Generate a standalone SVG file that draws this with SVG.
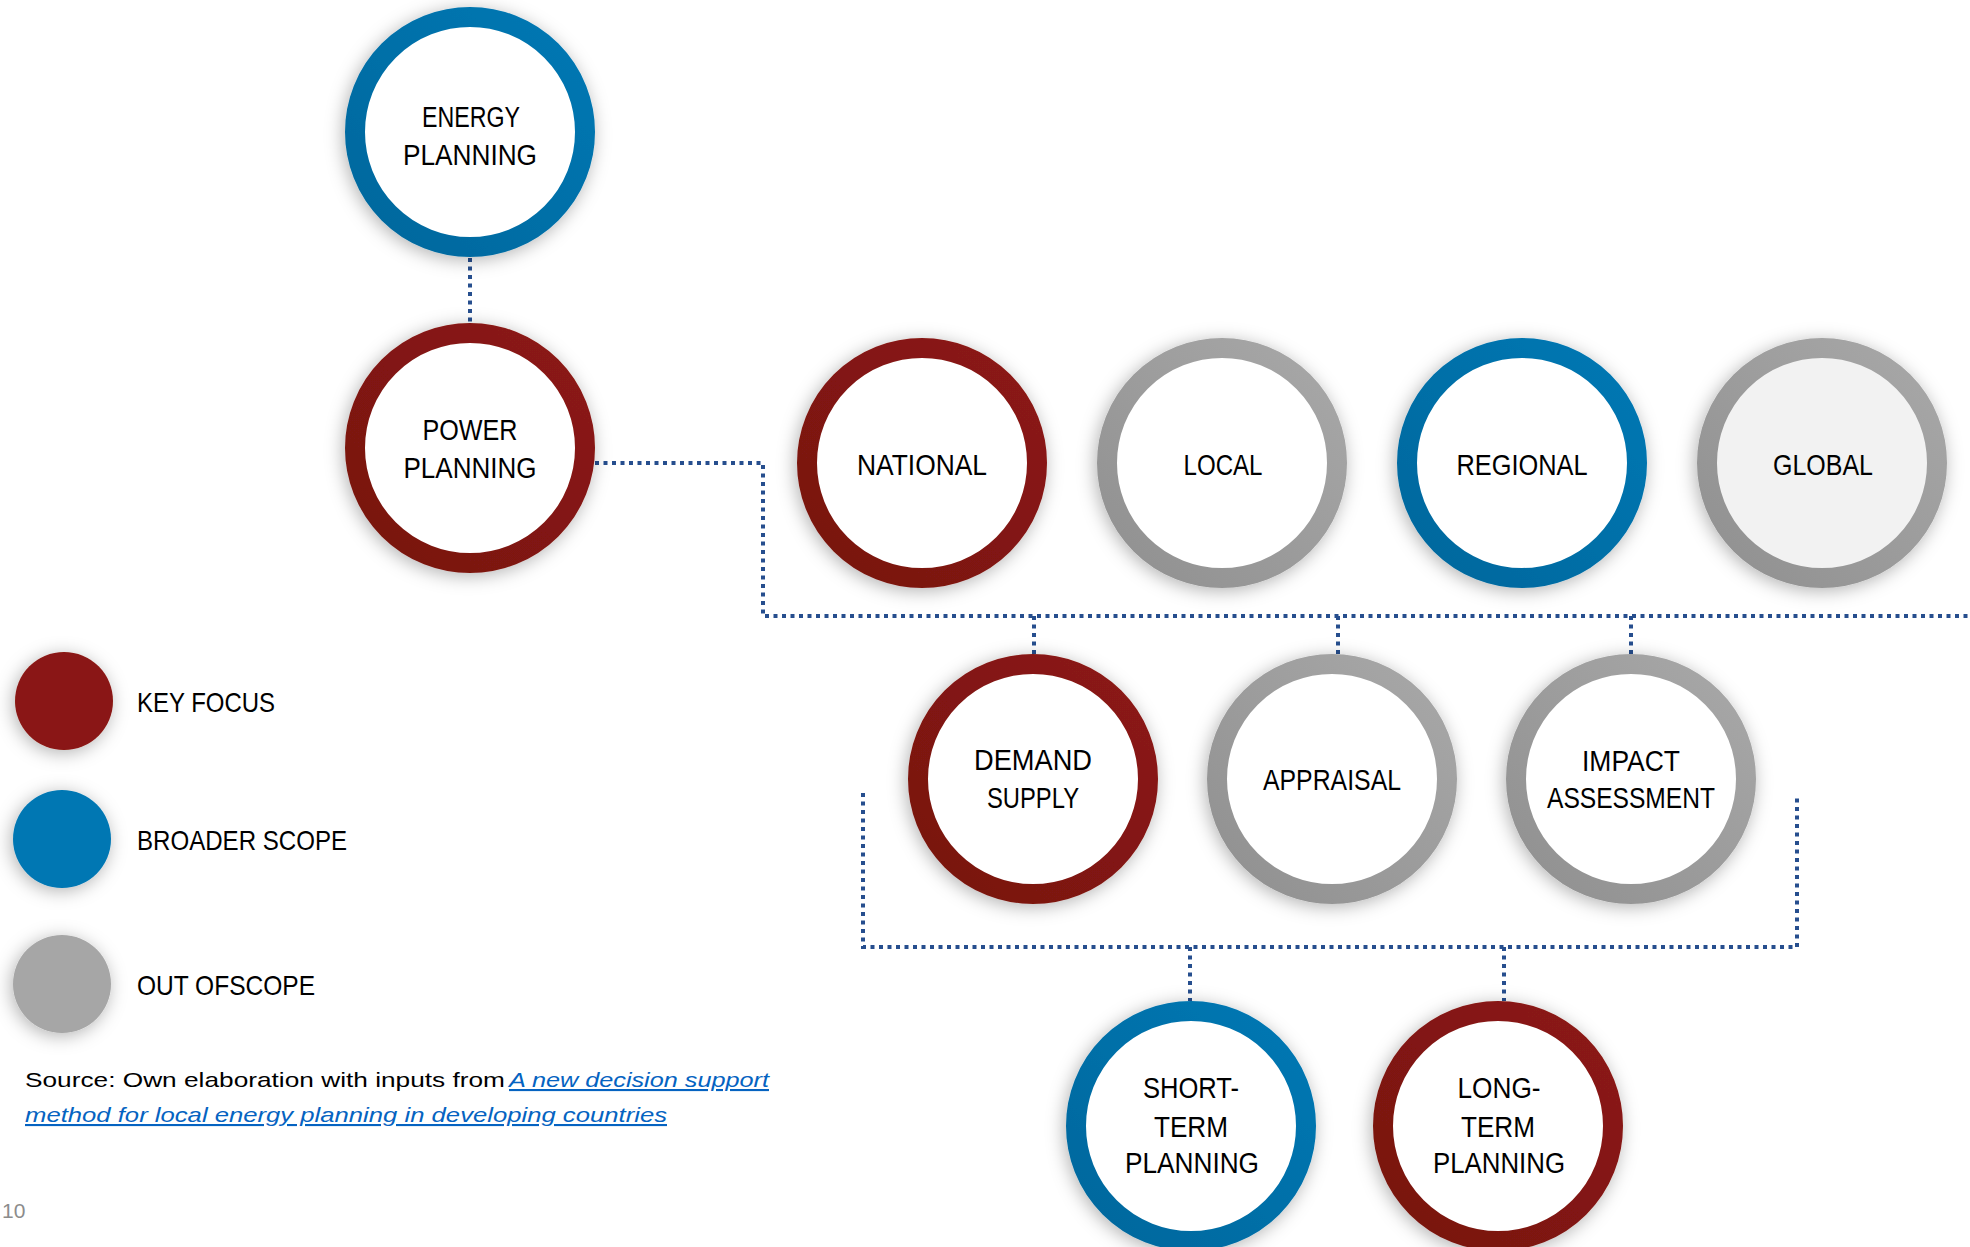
<svg xmlns="http://www.w3.org/2000/svg" width="1970" height="1247" viewBox="0 0 1970 1247">
<style>
.lbl{font-family:"Liberation Sans",Arial,sans-serif;font-size:30px;fill:#000;text-anchor:middle}
.leg{font-family:"Liberation Sans",Arial,sans-serif;font-size:28px;fill:#000}
.src{font-family:"Liberation Sans",Arial,sans-serif;font-size:21px;fill:#000}
.lnk{fill:#0563C1;font-style:italic;text-decoration:underline}
.conn{fill:none;stroke:#264E8E;stroke-width:4;stroke-dasharray:4 4.5}
.ring{stroke-width:20}
.red{stroke:url(#gRed)}
.blue{stroke:url(#gBlue)}
.gray{stroke:url(#gGray)}
</style>
<defs>
<filter id="sh" x="-30%" y="-30%" width="160%" height="160%">
<feDropShadow dx="-2" dy="3" stdDeviation="9" flood-color="#000" flood-opacity="0.3"/>
</filter>
<linearGradient id="gRed" x1="1" y1="0" x2="0" y2="1">
<stop offset="0" stop-color="#8C1A14"/><stop offset="1" stop-color="#771510"/>
</linearGradient>
<linearGradient id="gBlue" x1="1" y1="0" x2="0" y2="1">
<stop offset="0" stop-color="#0078B4"/><stop offset="1" stop-color="#00679C"/>
</linearGradient>
<linearGradient id="gGray" x1="1" y1="0" x2="0" y2="1">
<stop offset="0" stop-color="#A8A8A8"/><stop offset="1" stop-color="#909090"/>
</linearGradient>
</defs>
<rect width="1970" height="1247" fill="#fff"/>

<g id="connectors">
<path class="conn" d="M470 258 V323"/>
<path class="conn" d="M595 463 H763 V616 H1970"/>
<path class="conn" d="M1034 616 V654"/>
<path class="conn" d="M1338 616 V654"/>
<path class="conn" d="M1631 616 V654"/>
<path class="conn" d="M863 793 V947 H1797 V795"/>
<path class="conn" d="M1190 947 V1001"/>
<path class="conn" d="M1504 947 V1001"/>
</g>

<g id="energy-planning">
<circle cx="470" cy="132" r="115" fill="#fff" class="ring blue" filter="url(#sh)"/>
<text class="lbl" x="471" y="127" textLength="98" lengthAdjust="spacingAndGlyphs">ENERGY</text>
<text class="lbl" x="470" y="165" textLength="134" lengthAdjust="spacingAndGlyphs">PLANNING</text>
</g>
<g id="power-planning">
<circle cx="470" cy="448" r="115" fill="#fff" class="ring red" filter="url(#sh)"/>
<text class="lbl" x="470" y="440" textLength="95" lengthAdjust="spacingAndGlyphs">POWER</text>
<text class="lbl" x="470" y="478" textLength="133" lengthAdjust="spacingAndGlyphs">PLANNING</text>
</g>
<g id="national">
<circle cx="922" cy="463" r="115" fill="#fff" class="ring red" filter="url(#sh)"/>
<text class="lbl" x="922" y="475" textLength="130" lengthAdjust="spacingAndGlyphs">NATIONAL</text>
</g>
<g id="local">
<circle cx="1222" cy="463" r="115" fill="#fff" class="ring gray" filter="url(#sh)"/>
<text class="lbl" x="1223" y="475" textLength="79" lengthAdjust="spacingAndGlyphs">LOCAL</text>
</g>
<g id="regional">
<circle cx="1522" cy="463" r="115" fill="#fff" class="ring blue" filter="url(#sh)"/>
<text class="lbl" x="1522" y="475" textLength="131" lengthAdjust="spacingAndGlyphs">REGIONAL</text>
</g>
<g id="global">
<circle cx="1822" cy="463" r="115" fill="#F2F2F2" class="ring gray" filter="url(#sh)"/>
<text class="lbl" x="1823" y="475" textLength="100" lengthAdjust="spacingAndGlyphs">GLOBAL</text>
</g>
<g id="demand-supply">
<circle cx="1033" cy="779" r="115" fill="#fff" class="ring red" filter="url(#sh)"/>
<text class="lbl" x="1033" y="770" textLength="118" lengthAdjust="spacingAndGlyphs">DEMAND</text>
<text class="lbl" x="1033" y="808" textLength="92" lengthAdjust="spacingAndGlyphs">SUPPLY</text>
</g>
<g id="appraisal">
<circle cx="1332" cy="779" r="115" fill="#fff" class="ring gray" filter="url(#sh)"/>
<text class="lbl" x="1332" y="790" textLength="138" lengthAdjust="spacingAndGlyphs">APPRAISAL</text>
</g>
<g id="impact-assessment">
<circle cx="1631" cy="779" r="115" fill="#fff" class="ring gray" filter="url(#sh)"/>
<text class="lbl" x="1631" y="771" textLength="98" lengthAdjust="spacingAndGlyphs">IMPACT</text>
<text class="lbl" x="1631" y="808" textLength="168" lengthAdjust="spacingAndGlyphs">ASSESSMENT</text>
</g>
<g id="short-term-planning">
<circle cx="1191" cy="1126" r="115" fill="#fff" class="ring blue" filter="url(#sh)"/>
<text class="lbl" x="1191" y="1098" textLength="96" lengthAdjust="spacingAndGlyphs">SHORT-</text>
<text class="lbl" x="1191" y="1137" textLength="74" lengthAdjust="spacingAndGlyphs">TERM</text>
<text class="lbl" x="1192" y="1173" textLength="134" lengthAdjust="spacingAndGlyphs">PLANNING</text>
</g>
<g id="long-term-planning">
<circle cx="1498" cy="1126" r="115" fill="#fff" class="ring red" filter="url(#sh)"/>
<text class="lbl" x="1499" y="1098" textLength="83" lengthAdjust="spacingAndGlyphs">LONG-</text>
<text class="lbl" x="1498" y="1137" textLength="74" lengthAdjust="spacingAndGlyphs">TERM</text>
<text class="lbl" x="1499" y="1173" textLength="132" lengthAdjust="spacingAndGlyphs">PLANNING</text>
</g>

<g id="legend">
<g id="legend-key-focus">
<circle cx="64" cy="701" r="49" fill="#8A1913" filter="url(#sh)"/>
<text class="leg" x="137" y="712" textLength="138" lengthAdjust="spacingAndGlyphs">KEY FOCUS</text>
</g>
<g id="legend-broader-scope">
<circle cx="62" cy="839" r="49" fill="#0077B3" filter="url(#sh)"/>
<text class="leg" x="137" y="850" textLength="210" lengthAdjust="spacingAndGlyphs">BROADER SCOPE</text>
</g>
<g id="legend-out-of-scope">
<circle cx="62" cy="984" r="49" fill="#A6A6A6" filter="url(#sh)"/>
<text class="leg" x="137" y="995" textLength="178" lengthAdjust="spacingAndGlyphs">OUT OFSCOPE</text>
</g>
</g>

<g id="source">
<text class="src" x="25" y="1087"><tspan textLength="480" lengthAdjust="spacingAndGlyphs">Source: Own elaboration with inputs from</tspan><tspan class="lnk" x="509" textLength="260" lengthAdjust="spacingAndGlyphs">A new decision support</tspan></text>
<text class="src lnk" x="25" y="1122" textLength="642" lengthAdjust="spacingAndGlyphs">method for local energy planning in developing countries</text>
</g>
<text id="page-number" x="2" y="1218" font-family="Liberation Sans, Arial, sans-serif" font-size="21" fill="#8C8C8C">10</text>
</svg>
